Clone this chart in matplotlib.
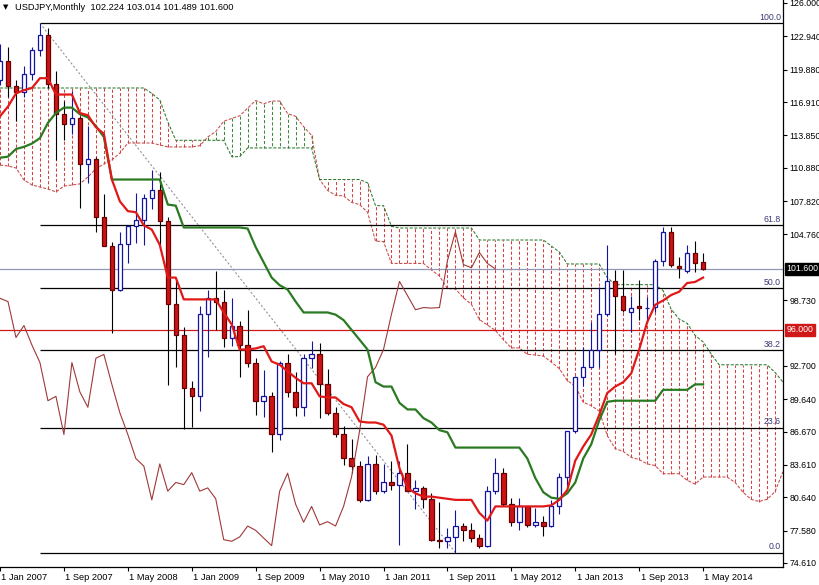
import numpy as np
import matplotlib.pyplot as plt
from matplotlib.transforms import blended_transform_factory

# USDJPY monthly bars, Jan 2007 .. May 2014 (bar index 0 = Jan 2007)
opens = [118.95, 120.65, 118.40, 117.80, 119.45, 121.70, 123.10, 118.60, 115.80, 114.90, 115.40, 111.20,
         111.65, 106.40, 103.70, 99.70, 103.90, 105.50, 106.10, 108.10, 108.80, 106.00, 98.40, 95.50,
         90.70, 89.90, 97.50, 98.90, 98.60, 95.30, 96.40, 94.60, 93.00, 89.50, 89.90, 86.40,
         93.00, 90.30, 88.90, 93.40, 93.75, 91.00, 88.40, 86.40, 84.20, 83.50, 80.40, 83.70,
         81.20, 82.00, 81.80, 82.90, 81.20, 81.50, 80.50, 76.75, 76.60, 77.00, 78.00, 77.60,
         76.90, 76.20, 81.20, 82.85, 80.00, 78.35, 79.80, 78.10, 78.40, 78.00, 79.80, 82.50,
         86.70, 91.70, 92.55, 94.20, 97.45, 100.45, 99.15, 97.65, 98.20, 98.00, 98.10, 102.35,
         105.00, 101.90, 101.40, 103.10, 102.224]
highs = [122.20, 122.00, 118.95, 120.20, 122.00, 124.14, 123.70, 119.80, 117.00, 117.95, 115.60, 114.70,
         111.90, 108.50, 104.10, 105.00, 105.60, 108.60, 108.50, 110.65, 110.50, 106.40, 100.60, 96.30,
         91.30, 98.20, 99.70, 101.45, 99.70, 98.90, 96.80, 97.80, 93.40, 92.30, 90.30, 93.10,
         93.75, 92.10, 93.75, 94.99, 94.80, 92.40, 88.95, 87.15, 85.95, 84.00, 84.40, 84.50,
         83.70, 84.00, 84.00, 85.50, 82.20, 81.70, 81.00, 80.25, 77.80, 79.50, 78.30, 78.30,
         77.30, 81.65, 84.20, 83.30, 80.60, 80.60, 79.85, 79.65, 78.95, 80.40, 82.85, 86.65,
         91.75, 94.45, 96.70, 99.90, 103.75, 101.50, 101.50, 99.15, 100.60, 99.00, 102.55, 105.40,
         105.45, 102.70, 103.75, 104.15, 103.014]
lows = [118.50, 117.40, 115.15, 117.40, 118.90, 121.10, 118.20, 111.60, 113.40, 114.00, 107.20, 109.50,
        104.95, 103.90, 95.75, 99.60, 102.10, 103.95, 103.80, 107.10, 103.50, 90.90, 92.60, 86.95,
        87.10, 88.60, 93.50, 96.00, 94.40, 94.50, 91.70, 92.60, 88.20, 88.00, 84.80, 85.90,
        89.80, 88.10, 88.10, 92.50, 87.95, 88.15, 86.20, 83.60, 82.85, 80.20, 80.30, 80.90,
        81.00, 81.30, 76.25, 81.30, 79.60, 79.70, 76.60, 75.95, 75.95, 75.56, 76.60, 76.55,
        76.00, 76.10, 80.90, 79.80, 78.00, 77.65, 77.90, 77.95, 77.10, 77.95, 79.10, 81.70,
        86.50, 90.85, 92.55, 92.60, 97.30, 93.80, 97.60, 95.80, 96.90, 96.60, 97.60, 101.90,
        101.75, 100.75, 101.20, 101.30, 101.489]
closes = [120.65, 118.40, 117.80, 119.45, 121.70, 123.10, 118.60, 115.80, 114.90, 115.40, 111.20, 111.65,
          106.40, 103.70, 99.70, 103.90, 105.50, 106.10, 108.10, 108.80, 106.00, 98.40, 95.50, 90.70,
          89.90, 97.50, 98.90, 98.60, 95.30, 96.40, 94.60, 93.00, 89.50, 89.90, 86.40, 93.00,
          90.30, 88.90, 93.40, 93.75, 91.00, 88.40, 86.40, 84.20, 83.50, 80.40, 83.70, 81.20,
          82.00, 81.80, 82.90, 81.20, 81.50, 80.50, 76.75, 76.60, 77.00, 78.00, 77.60, 76.90,
          76.20, 81.20, 82.85, 80.00, 78.35, 79.80, 78.10, 78.40, 78.00, 79.80, 82.50, 86.70,
          91.70, 92.55, 94.20, 97.45, 100.45, 99.15, 97.85, 98.05, 98.00, 98.05, 102.35, 105.00,
          102.00, 101.70, 103.10, 102.10, 101.600]

# Ichimoku lines
tenkan = [115.6, 116.5, 117.7, 118.0, 118.2, 119.1, 119.1, 117.6, 117.6, 117.6, 115.9, 115.7,
          114.6, 114.0, 109.8, 107.8, 106.9, 106.8, 105.6, 105.2, 103.8, 100.8, 100.8, 98.8,
          98.8, 98.8, 98.8, 98.8, 97.6, 96.5, 94.2, 94.2, 94.3, 94.5, 93.1, 92.8,
          92.2, 91.6, 91.1, 91.1, 89.9, 89.8, 89.8, 89.2, 88.9, 87.6, 87.5, 87.5,
          87.3, 86.3, 83.3, 81.5, 81.0, 80.7, 80.7, 80.6, 80.5, 80.4, 80.4, 80.4,
          79.2, 78.5, 79.8, 79.8, 79.8, 79.8, 79.8, 79.8, 79.8, 79.9, 80.4, 81.3,
          84.0, 85.3, 86.4, 88.2, 90.2, 90.8, 91.2, 92.0, 94.2, 96.7, 98.3, 98.7,
          99.2, 99.5, 100.3, 100.4, 100.8]
kijun = [111.8, 111.9, 112.6, 112.8, 113.1, 113.6, 115.0, 115.9, 116.4, 116.4, 115.8, 115.5,
         114.7, 113.7, 109.8, 109.8, 109.8, 109.8, 109.8, 109.8, 109.8, 107.5, 107.4, 105.4,
         105.4, 105.4, 105.4, 105.4, 105.4, 105.4, 105.4, 105.3, 103.6, 102.2, 100.8, 100.1,
         99.7, 98.6, 97.6, 97.6, 97.6, 97.6, 97.4, 96.9, 96.0, 95.1, 94.2, 91.2,
         90.8, 90.8, 89.3, 88.7, 88.7, 87.9, 87.5, 86.8, 86.6, 85.2, 85.2, 85.2,
         85.2, 85.2, 85.2, 85.2, 85.2, 85.2, 84.2, 82.4, 81.1, 80.6, 80.5, 81.0,
         82.0, 84.2, 85.5, 87.7, 89.4, 89.5, 89.5, 89.5, 89.5, 89.5, 89.5, 90.5,
         90.5, 90.5, 90.5, 91.0, 91.0]
# senkou spans, bar 0 .. 98 (cloud runs ahead of price)
span_a = [111.13, 111.04, 110.86, 109.76, 109.30, 109.11, 108.93, 108.66, 109.2, 109.3, 109.4, 110.03,
          110.77, 111.23, 111.59, 112.23, 113.15, 113.15, 113.15, 113.15, 112.97, 112.79, 112.79, 112.79,
          112.79, 112.9, 113.7, 114.2, 115.15, 115.4, 115.65, 116.35, 117.05, 116.75, 117.0, 117.0,
          115.85, 115.6, 114.65, 113.85, 109.8, 108.8, 108.35, 108.3, 107.7, 107.5, 106.8, 104.15,
          104.1, 102.1, 102.1, 102.1, 102.1, 102.1, 101.5, 100.95, 99.8, 99.75, 98.95, 98.35,
          96.95, 96.45, 95.95, 95.1, 94.35, 94.35, 93.75, 93.7, 93.6, 93.05, 92.45, 91.35,
          90.85, 89.35, 89.05, 88.55, 86.3, 85.1, 84.85, 84.3, 84.1, 83.7, 83.55, 82.8,
          82.8, 82.8, 82.2, 81.85, 82.5, 82.5, 82.5, 82.5, 82.0, 81.1, 80.45, 80.25,
          80.45, 81.15, 83.0]
span_b = [118.2, 118.2, 118.2, 118.2, 118.2, 118.2, 118.2, 118.2, 118.2, 118.2, 118.2, 118.2,
          118.2, 118.2, 118.2, 118.2, 118.2, 118.2, 118.2, 117.7, 117.1, 115.1, 113.4, 113.4,
          113.4, 113.4, 113.4, 113.4, 113.4, 111.9, 111.9, 112.7, 112.7, 112.7, 112.7, 112.7,
          112.7, 112.7, 112.7, 112.7, 109.8, 109.8, 109.8, 109.8, 109.8, 109.8, 109.5, 107.4,
          107.4, 105.5, 105.35, 105.35, 105.35, 105.35, 105.35, 105.35, 105.35, 105.35, 105.35, 105.35,
          104.25, 104.25, 104.25, 104.25, 104.25, 104.25, 104.25, 104.25, 104.25, 103.7, 103.15, 102.05,
          102.05, 102.05, 102.05, 102.05, 100.8, 100.15, 100.15, 100.15, 100.15, 100.15, 100.15, 99.6,
          97.9, 97.0, 96.6, 95.5, 94.9, 93.8, 92.8, 92.8, 92.8, 92.8, 92.8, 92.8,
          92.8, 92.1, 91.2]

date_labels = ['1 Jan 2007', '1 Sep 2007', '1 May 2008', '1 Jan 2009', '1 Sep 2009', '1 May 2010',
               '1 Jan 2011', '1 Sep 2011', '1 May 2012', '1 Jan 2013', '1 Sep 2013', '1 May 2014']
date_bars = [0, 8, 16, 24, 32, 40, 48, 56, 64, 72, 80, 88]
price_ticks = [126.000, 122.940, 119.880, 116.910, 113.850, 110.880, 107.820, 104.760,
               98.730, 92.700, 89.640, 86.670, 83.610, 80.640, 77.580, 74.610]

fib_levels = [0.0, 23.6, 38.2, 50.0, 61.8, 100.0]
fib_high, fib_low = 124.14, 75.56
fib_start, fib_end = 5, 57
bid_price = 101.600
alert_price = 96.000
header = 'USDJPY,Monthly  102.224 103.014 101.489 101.600'

plt.rcParams['font.family'] = ['Liberation Sans', 'DejaVu Sans']
fs = 6.3

fig = plt.figure(figsize=(8.2, 5.85), dpi=100)
ax = fig.add_axes([0, 18 / 585, 783 / 820, 567 / 585])
ax.set_xlim(0.125, 98.0)
ax.set_ylim(74.24, 126.275)

# cloud
a = np.array(span_a)
b = np.array(span_b)
cx = np.arange(len(a))
down = b >= a
ax.vlines(cx[down], a[down], b[down], colors='#d84040', linestyles=(0, (3, 2)), lw=0.75, zorder=1)
ax.vlines(cx[~down], a[~down], b[~down], colors='#3a8a3a', linestyles=(0, (3, 2)), lw=0.75, zorder=1)
ax.plot(cx, a, color='#c84a4a', ls=(0, (3, 1.5)), lw=0.75, zorder=1)
ax.plot(cx, b, color='#2f7a2f', ls=(0, (3, 1.5)), lw=0.75, zorder=1)

# fibonacci retracement
rng = fib_high - fib_low
trans = blended_transform_factory(ax.transAxes, ax.transData)
for lev in fib_levels:
    p = fib_low + rng * lev / 100
    ax.hlines(p, fib_start, 98.0, color='black', lw=0.9, zorder=2)
    ax.annotate(f'{lev:.1f}', xy=(1, p), xycoords=trans, xytext=(-1.5, 1), textcoords='offset points',
                ha='right', va='bottom', fontsize=fs, color='#3a3a78')
ax.plot([fib_start, fib_end], [fib_high, fib_low], color='#8a8a9a', ls=(0, (2, 2)), lw=0.75, zorder=2)

ax.axhline(bid_price, color='#9098b8', lw=0.9, zorder=2)
ax.axhline(alert_price, color='#d01818', lw=0.9, zorder=2)

# candles
o = np.array(opens)
h = np.array(highs)
l = np.array(lows)
c = np.array(closes)
x = np.arange(len(c))
up = c >= o
ax.vlines(x[up], l[up], h[up], color='#1414a0', lw=0.8, zorder=3)
ax.vlines(x[~up], l[~up], h[~up], color='black', lw=0.8, zorder=3)
ax.bar(x[up], (c - o)[up], bottom=o[up], width=0.55, facecolor='white', edgecolor='#1414a0',
       lw=0.9, zorder=4)
ax.bar(x[~up], (o - c)[~up], bottom=c[~up], width=0.55, facecolor='#cc1414', edgecolor='#6a0000',
       lw=0.9, zorder=4)

# chikou, tenkan, kijun
ax.plot(x - 26, c, color='#a03838', lw=0.8, zorder=5)
ax.plot(x, kijun, color='#2a7a22', lw=1.6, zorder=5)
ax.plot(x, tenkan, color='#e01818', lw=1.6, zorder=6)

# axes styling
for side in ['top', 'left']:
    ax.spines[side].set_visible(False)
ax.spines['right'].set_linewidth(0.9)
ax.spines['bottom'].set_linewidth(0.9)
ax.yaxis.tick_right()
ax.set_yticks(price_ticks)
ax.set_yticklabels([f'{v:.3f}' for v in price_ticks])
ax.tick_params(axis='y', direction='out', length=3, width=0.8, pad=1.5, labelsize=fs)
ax.set_xticks(date_bars)
ax.set_xticklabels([])
ax.tick_params(axis='x', direction='out', length=3, width=0.8)

dtrans = blended_transform_factory(ax.transData, ax.transAxes)
for pos, lab in zip(date_bars, date_labels):
    ax.annotate(lab, xy=(pos, 0), xycoords=dtrans, xytext=(1, -4), textcoords='offset points',
                ha='left', va='top', fontsize=fs + 0.4, annotation_clip=False)

for price, bg in [(bid_price, 'black'), (alert_price, '#d01818')]:
    ax.annotate(f'{price:.3f}', xy=(1, price), xycoords=trans, xytext=(2.5, 0), textcoords='offset points',
                ha='left', va='center', fontsize=fs, color='white', annotation_clip=False,
                bbox=dict(boxstyle='square,pad=0.2', fc=bg, ec=bg))

fig.text(3 / 820, 1 - 7 / 585, '\u25bc', fontsize=5, va='center', family='DejaVu Sans')
fig.text(15 / 820, 1 - 7 / 585, header, fontsize=fs + 0.4, va='center')

fig.savefig('out.png', dpi=100)
